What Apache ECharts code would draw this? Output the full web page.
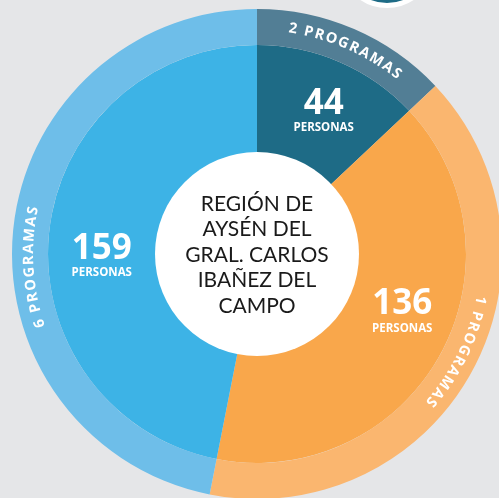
<!DOCTYPE html>
<html>
<head>
<meta charset="utf-8">
<script src="https://cdn.jsdelivr.net/npm/echarts@6/dist/echarts.min.js"></script>
<style>
  html, body { margin: 0; padding: 0; background: #e5e6e8; }
  #chart { width: 499px; height: 498px; }
</style>
</head>
<body>
<div id="chart"></div>
<script>
// data
const programas = ["2 PROGRAMAS", "1 PROGRAMAS", "6 PROGRAMAS"];
const personas = [44, 136, 159];
const innerColors = ["#1e6b86", "#f9a74b", "#3db3e6"];
const outerColors = ["#527e95", "#fab66f", "#6ebee9"];
const centerTitle = ["REGIÓN DE", "AYSÉN DEL", "GRAL. CARLOS", "IBAÑEZ DEL", "CAMPO"];

// layout
const cx = 257, cy = 254;
const rHole = 101, rInner = 209, rOuter = 245;
const ringFont = 'bold 14.5px "Open Sans"';
const ringSpacing = 1.8;
const ringNudge = [0, -3, -9]; // degrees, where the original text sits off the slice middle
const labelShift = [[4, 2], [7, -19], [2, 17]]; // px nudges of the number labels

let myChart = echarts.init(document.getElementById("chart"));

// curved labels on the outer ring, one text element per letter
let measure = document.createElement("canvas").getContext("2d");
measure.font = ringFont;
let total = personas.reduce((a, b) => a + b, 0);
let ringText = [];
let acc = 0;
personas.forEach((v, i) => {
  let mid = (acc + v / 2) / total * 360 + ringNudge[i];
  acc += v;
  let label = programas[i];
  let widths = label.split("").map(ch => measure.measureText(ch).width);
  let w = widths.reduce((a, b) => a + b, 0) + ringSpacing * (widths.length - 1);
  let r = (rInner + rOuter) / 2 + 1;
  let pos = -w / 2;
  label.split("").forEach((ch, k) => {
    let a = (mid * Math.PI / 180) + (pos + widths[k] / 2) / r;
    pos += widths[k] + ringSpacing;
    ringText.push({
      type: "text",
      z: 100,
      x: cx + r * Math.sin(a),
      y: cy - r * Math.cos(a),
      rotation: -a,
      style: {
        text: ch,
        fill: "#ffffff",
        font: ringFont,
        align: "center",
        verticalAlign: "middle",
        textAlign: "center",
        textVerticalAlign: "middle"
      }
    });
  });
});

myChart.setOption({
  backgroundColor: "#e5e6e8",
  animation: false,
  series: [
    {
      type: "pie",
      center: [cx, cy],
      radius: [rHole, rInner],
      startAngle: 90,
      clockwise: true,
      silent: true,
      label: {
        show: true,
        position: "inside",
        formatter: p => "{n|" + p.value + "}\n{p|PERSONAS}",
        rich: {
          n: {
            fontFamily: "Open Sans",
            fontWeight: "bold",
            fontSize: 35,
            color: "#ffffff",
            lineHeight: 34,
            align: "center"
          },
          p: {
            fontFamily: "Open Sans",
            fontWeight: "bold",
            fontSize: 11.5,
            color: "#ffffff",
            lineHeight: 14,
            align: "center"
          }
        }
      },
      labelLayout: p => ({ dx: labelShift[p.dataIndex][0], dy: labelShift[p.dataIndex][1] }),
      labelLine: { show: false },
      itemStyle: { borderWidth: 0 },
      data: personas.map((v, i) => ({
        value: v,
        name: programas[i],
        itemStyle: { color: innerColors[i] }
      }))
    },
    {
      type: "pie",
      center: [cx, cy],
      radius: [rInner, rOuter],
      startAngle: 90,
      clockwise: true,
      silent: true,
      label: { show: false },
      labelLine: { show: false },
      itemStyle: { borderWidth: 0 },
      data: personas.map((v, i) => ({
        value: v,
        name: programas[i],
        itemStyle: { color: outerColors[i] }
      }))
    }
  ],
  graphic: [
    {
      type: "circle",
      z: 100,
      shape: { cx: cx, cy: cy, r: rHole + 1 },
      style: { fill: "#ffffff" }
    },
    {
      type: "text",
      z: 101,
      x: cx,
      y: cy + 1,
      style: {
        text: centerTitle.join("\n"),
        fill: "#1a1a1a",
        font: '21px "Lato"',
        lineHeight: 25.5,
        align: "center",
        verticalAlign: "middle",
        textAlign: "center",
        textVerticalAlign: "middle"
      }
    },
    {
      type: "circle",
      z: 100,
      shape: { cx: 387, cy: -40, r: 45.5 },
      style: { fill: "#1e6b86", stroke: "#ffffff", lineWidth: 5 }
    }
  ].concat(ringText)
});
</script>
</body>
</html>
